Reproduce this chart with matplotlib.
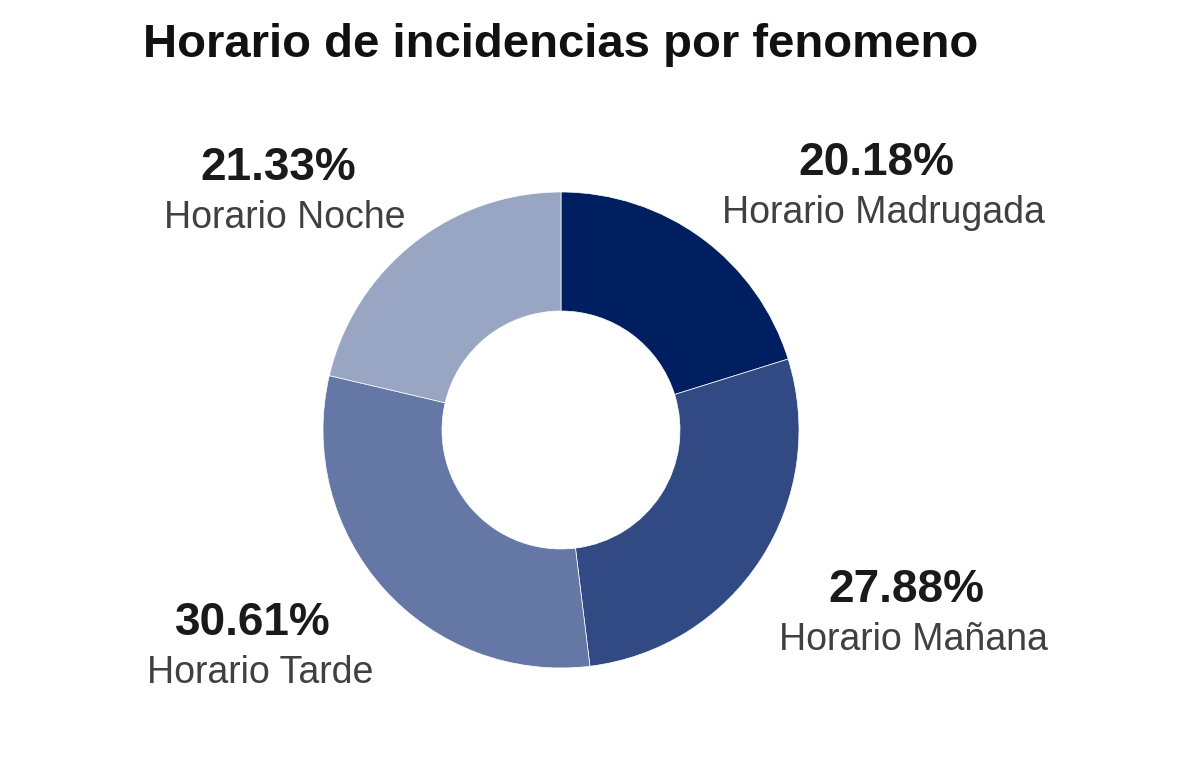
import matplotlib.pyplot as plt
import numpy as np

# Datos
categorias = ['Horario Madrugada', 'Horario Mañana', 'Horario Tarde', 'Horario Noche']
porcentajes = [20.18, 27.88, 30.61, 21.33]
colores = ['#001f60', '#324a84', '#6577a4', '#98a5c3']

# posicion de las etiquetas (en pixeles, relativo al centro del anillo)
offsets = [(318, 245), (348, -182), (-305, -215), (-280, 240)]

plt.rcParams['font.family'] = ['Liberation Sans', 'DejaVu Sans']

fig = plt.figure(figsize=(12, 7.8), dpi=100)
ax = fig.add_axes([0, 0, 1, 1])

cx, cy, r = 561, 780 - 430, 238
ax.pie(porcentajes, colors=colores, startangle=90, counterclock=False,
       center=(cx, cy), radius=r, frame=True,
       wedgeprops=dict(width=r * 0.5, edgecolor='white', linewidth=0.5))
ax.set_xlim(0, 1200)
ax.set_ylim(0, 780)
ax.set_aspect('equal')
ax.axis('off')

for cat, pct, (dx, dy) in zip(categorias, porcentajes, offsets):
    ax.text(cx + dx - 3, cy + dy + 22, f'{pct:.2f}%', ha='center', va='center',
            fontsize=33, fontweight='bold', color='#1a1a1a')
    ax.text(cx + dx + 4, cy + dy - 28, cat, ha='center', va='center',
            fontsize=27, color='#404040')

fig.text(143 / 1200, 1 - 45 / 780, 'Horario de incidencias por fenomeno',
         ha='left', va='center', fontsize=34, fontweight='bold', color='#111111')

plt.savefig('out.png', dpi=100)
